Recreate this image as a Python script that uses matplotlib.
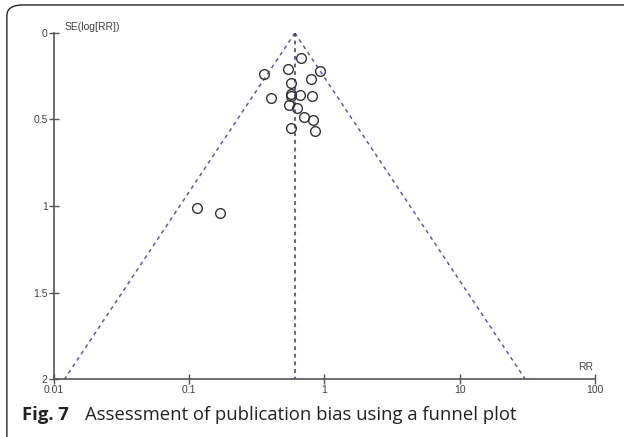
import numpy as np
import matplotlib
matplotlib.use("Agg")
import matplotlib.pyplot as plt
from matplotlib.patches import FancyBboxPatch

# study estimates
rr = [0.665, 0.360, 0.533, 0.929, 0.789, 0.568, 0.400, 0.568, 0.561, 0.658,
      0.803, 0.546, 0.625, 0.708, 0.824, 0.561, 0.849, 0.114, 0.169]
se = [0.143, 0.239, 0.210, 0.220, 0.266, 0.287, 0.374, 0.354, 0.364, 0.358,
      0.364, 0.416, 0.432, 0.487, 0.505, 0.551, 0.566, 1.013, 1.042]
pooled_rr = 0.604
se_max = 2.0

x_ticks = [0.01, 0.1, 1, 10, 100]
x_labels = ["0.01", "0.1", "1", "10", "100"]
y_ticks = [0, 0.5, 1, 1.5, 2]
y_labels = ["0", "0.5", "1", "1.5", "2"]

fig = plt.figure(figsize=(6.24, 4.37), dpi=100)
fig.patch.set_facecolor("white")

# rounded frame (runs off the right and bottom edges)
frame = FancyBboxPatch((0.011, -0.03), 1.02, 1.0186,
                       boxstyle="round,pad=0,rounding_size=0.025",
                       transform=fig.transFigure, fill=False,
                       edgecolor="#222222", linewidth=1.0)
fig.patches.append(frame)

ax = fig.add_axes([0.0865, 0.1327, 0.867, 0.7918])
ax.set_xscale("log")
ax.set_xlim(0.01, 100)
ax.set_ylim(se_max, 0)

# funnel (95% pseudo confidence limits)
se_line = np.array([0, se_max])
lo = np.exp(np.log(pooled_rr) - 1.96 * se_line)
hi = np.exp(np.log(pooled_rr) + 1.96 * se_line)
ax.plot(lo, se_line, linestyle=(0, (2.5, 2.5)), color="#5a5ab4", linewidth=1.1)
ax.plot(hi, se_line, linestyle=(0, (2.5, 2.5)), color="#5a5ab4", linewidth=1.1)
ax.plot([pooled_rr, pooled_rr], se_line, linestyle=(0, (2.5, 2.5)),
        color="#33338f", linewidth=1.1)

ax.plot(rr, se, linestyle="none", marker="o", markersize=7,
        markerfacecolor="none", markeredgecolor="#333333",
        markeredgewidth=1.0)

for s in ["top", "right"]:
    ax.spines[s].set_visible(False)
for s in ["left", "bottom"]:
    ax.spines[s].set_color("#555555")
    ax.spines[s].set_linewidth(1.2)

ax.set_xticks(x_ticks)
ax.set_xticklabels(x_labels)
ax.xaxis.set_minor_locator(matplotlib.ticker.NullLocator())
ax.set_yticks(y_ticks)
ax.set_yticklabels(y_labels)
ax.tick_params(direction="inout", length=7, width=1.0, color="#555555",
               labelsize=7.5, labelcolor="#444444", pad=1)
for lab in ax.get_xticklabels() + ax.get_yticklabels():
    lab.set_family("Liberation Sans")

ax.text(0.012, -0.005, "SE(log[RR])", fontsize=7.5, color="#444444",
        family="Liberation Sans", ha="left", va="bottom")
ax.text(97, 1.96, "RR", fontsize=7.5, color="#444444",
        family="Liberation Sans", ha="right", va="bottom")

fig.text(0.036, 0.05, "Fig. 7", fontsize=13.3, fontweight="bold",
         family="Open Sans", color="#222222", va="center")
fig.text(0.136, 0.05, "Assessment of publication bias using a funnel plot",
         fontsize=13.3, family="Open Sans", color="#222222", va="center")

fig.savefig("out.png", dpi=100)
